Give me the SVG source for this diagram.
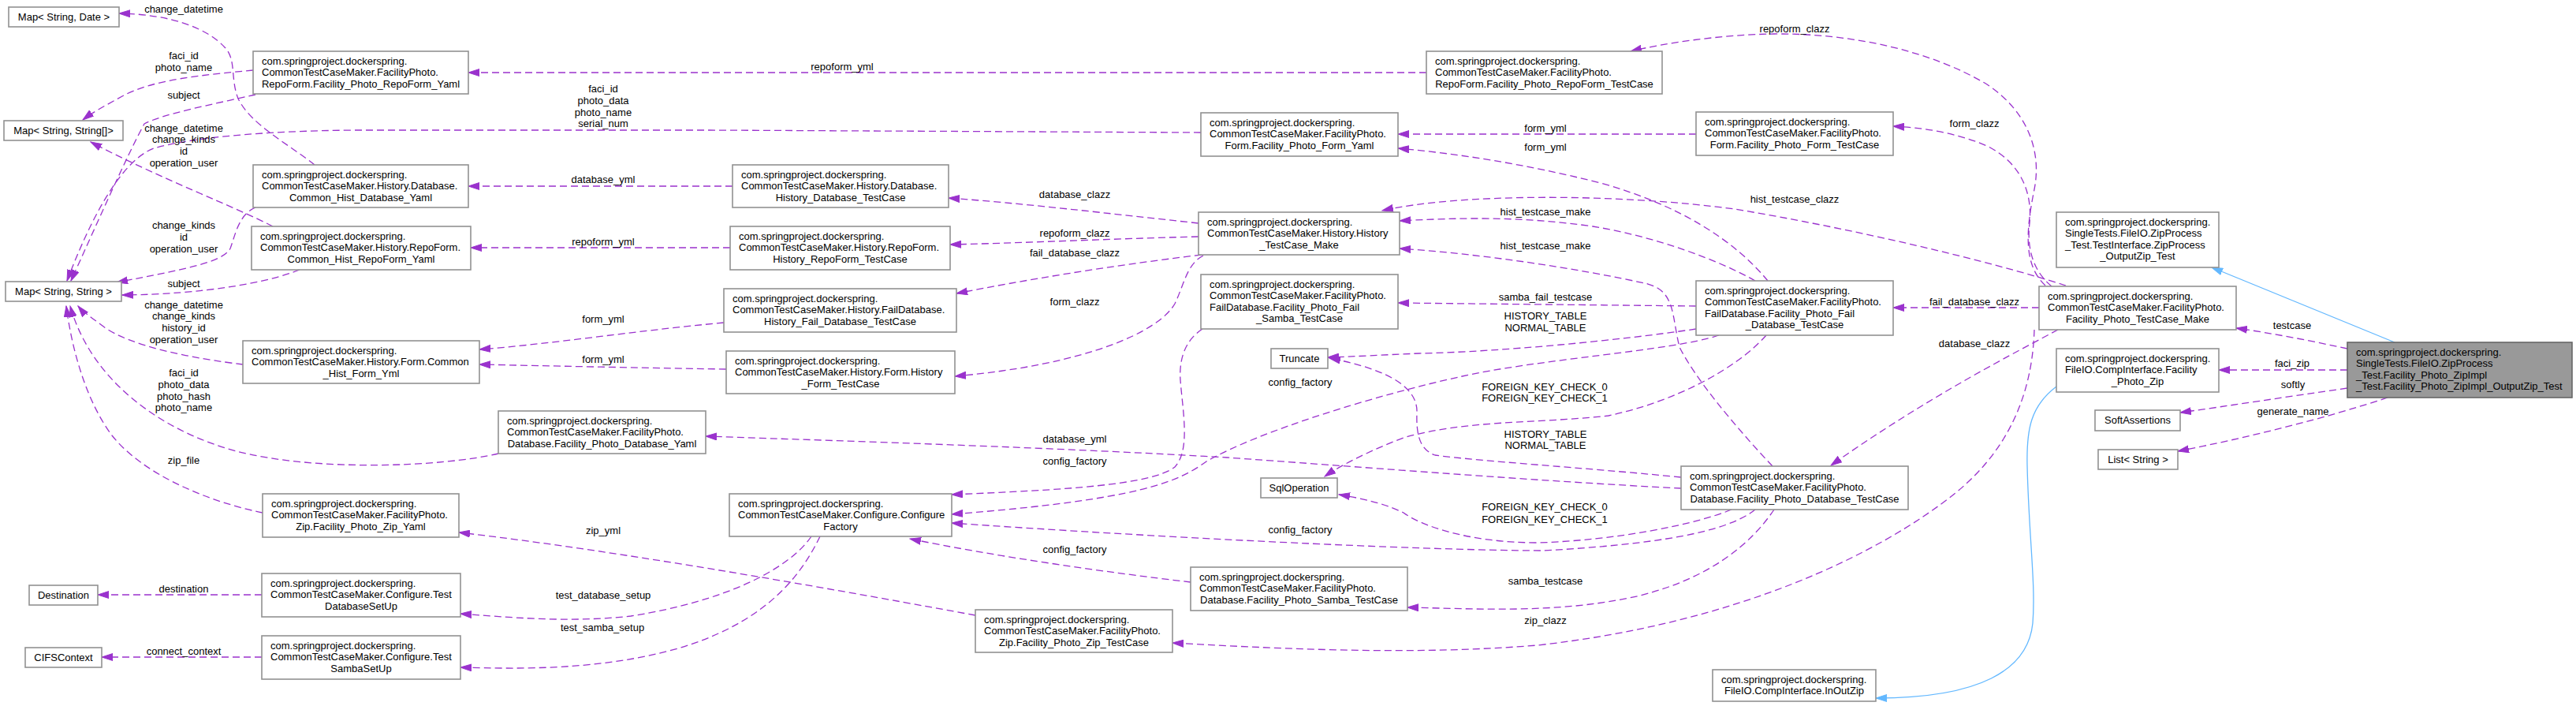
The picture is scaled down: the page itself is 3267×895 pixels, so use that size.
<svg xmlns="http://www.w3.org/2000/svg" width="3267" height="895" viewBox="0 0 3267 895">
<style>
text{font-family:"Liberation Sans",Arial,sans-serif;font-size:13px;fill:#000}
.c{text-anchor:middle}
.n rect{fill:#fff;stroke:#919191;stroke-width:1.6}
.m rect{fill:#999;stroke:#666;stroke-width:1.6}
.e path{fill:none;stroke:#9a32cd;stroke-width:1.3;stroke-dasharray:9,5;marker-end:url(#ap)}
.b path{fill:none;stroke:#63b8ff;stroke-width:1.3;marker-end:url(#ab)}
</style>
<defs>
<marker id="ap" markerUnits="userSpaceOnUse" markerWidth="15" markerHeight="10" refX="14" refY="5" orient="auto"><path d="M0,0.5 L14,5 L0,9.5 z" fill="#9a32cd" stroke="#9a32cd"/></marker>
<marker id="ab" markerUnits="userSpaceOnUse" markerWidth="15" markerHeight="10" refX="14" refY="5" orient="auto"><path d="M0,0.5 L14,5 L0,9.5 z" fill="#63b8ff" stroke="#63b8ff"/></marker>
</defs>
<rect width="3267" height="895" fill="#fff"/>
<g id="edges">
<g class="e"><path d="M399,209 C365,182 318,158 302,125 C292,100 300,75 285,60 C262,35 215,18 151,17"/><text class="c" x="233" y="16">change_datetime</text></g>
<g class="e"><path d="M321,89 C260,95 195,100 155,122 C135,133 118,142 105,152"/><text class="c" x="233" y="75">faci_id</text><text class="c" x="233" y="89.5">photo_name</text></g>
<g class="e"><path d="M324,120 C270,132 205,145 183,157 C162,195 120,290 90,356"/><text class="c" x="233" y="125">subject</text></g>
<g class="e"><path d="M1523,168 L900,165 L450,165 C330,166 240,175 195,188 C150,205 110,290 85,356"/><text class="c" x="765" y="117">faci_id</text><text class="c" x="765" y="132">photo_data</text><text class="c" x="765" y="147">photo_name</text><text class="c" x="765" y="161">serial_num</text></g>
<g class="e"><path d="M346,287 C300,263 200,225 115,180"/><text class="c" x="233" y="167">change_datetime</text><text class="c" x="233" y="181">change_kinds</text><text class="c" x="233" y="195.5">id</text><text class="c" x="233" y="211">operation_user</text></g>
<g class="e"><path d="M324,263 C302,272 298,300 292,315 C283,333 230,342 148,358"/><text class="c" x="233" y="289.5">change_kinds</text><text class="c" x="233" y="304.5">id</text><text class="c" x="233" y="319.5">operation_user</text></g>
<g class="e"><path d="M380,342 C340,358 260,373 155,374"/><text class="c" x="233" y="364">subject</text></g>
<g class="e"><path d="M308,462 C250,455 165,440 130,413 C115,402 104,394 99,388"/><text class="c" x="233" y="391">change_datetime</text><text class="c" x="233" y="405">change_kinds</text><text class="c" x="233" y="420">history_id</text><text class="c" x="233" y="435">operation_user</text></g>
<g class="e"><path d="M632,575 C560,592 400,598 300,572 C200,545 115,480 89,388"/><text class="c" x="233" y="477">faci_id</text><text class="c" x="233" y="492">photo_data</text><text class="c" x="233" y="507">photo_hash</text><text class="c" x="233" y="521">photo_name</text></g>
<g class="e"><path d="M333,650 C260,635 180,600 142,552 C112,512 92,450 84,388"/><text class="c" x="233" y="588">zip_file</text></g>
<g class="e"><path d="M1809,92 L594,92"/><text class="c" x="1068" y="88.5">repoform_yml</text></g>
<g class="e"><path d="M929,236 L594,236"/><text class="c" x="765" y="232">database_yml</text></g>
<g class="e"><path d="M926,314 L597,314"/><text class="c" x="765" y="311">repoform_yml</text></g>
<g class="e"><path d="M918,409 C800,420 700,436 608,443"/><text class="c" x="765" y="409">form_yml</text></g>
<g class="e"><path d="M921,468 C800,466 700,464 608,462"/><text class="c" x="765" y="459.5">form_yml</text></g>
<g class="e"><path d="M1237,780 C1100,755 800,700 582,675"/><text class="c" x="765" y="677">zip_yml</text></g>
<g class="e"><path d="M1029,680 C1000,722 920,762 800,781 C720,790 640,782 584,778"/><text class="c" x="765" y="759">test_database_setup</text></g>
<g class="e"><path d="M1040,680 C1010,742 960,792 860,822 C760,850 660,848 584,846"/><text class="c" x="764" y="800">test_samba_setup</text></g>
<g class="e"><path d="M332,754 L124,754"/><text class="c" x="233" y="750.5">destination</text></g>
<g class="e"><path d="M332,833 L129,833"/><text class="c" x="233" y="829.5">connect_context</text></g>
<g class="e"><path d="M1520,283 C1400,270 1300,258 1203,251"/><text class="c" x="1363" y="251">database_clazz</text></g>
<g class="e"><path d="M1520,300 C1400,303 1300,308 1205,310"/><text class="c" x="1363" y="299.5">repoform_clazz</text></g>
<g class="e"><path d="M1524,323 C1400,338 1300,355 1213,372"/><text class="c" x="1363" y="325">fail_database_clazz</text></g>
<g class="e"><path d="M1526,324 C1505,335 1502,360 1490,385 C1470,420 1380,462 1211,477"/><text class="c" x="1363" y="387">form_clazz</text></g>
<g class="e"><path d="M1525,417 C1505,430 1495,452 1497,482 C1500,522 1510,570 1490,592 C1460,615 1350,621 1207,627"/><text class="c" x="1363" y="588.5">config_factory</text></g>
<g class="e"><path d="M2180,425 C2120,445 1950,455 1850,478 C1750,500 1600,545 1530,585 C1495,610 1450,633 1207,652"/><text class="c" x="1649" y="489">config_factory</text></g>
<g class="e"><path d="M2226,646 C2190,675 2100,690 1958,698 C1800,698 1450,680 1207,663"/><text class="c" x="1649" y="676">config_factory</text></g>
<g class="e"><path d="M1510,738 C1400,725 1260,705 1154,683"/><text class="c" x="1363" y="700.5">config_factory</text></g>
<g class="e"><path d="M2132,619 C1950,610 1700,590 1556,580 C1350,568 1100,560 895,553"/><text class="c" x="1363" y="561">database_yml</text></g>
<g class="e"><path d="M2151,417 C2050,432 1900,446 1800,448 C1750,450 1720,452 1684,453"/><text class="c" x="1960" y="404.5">HISTORY_TABLE</text><text class="c" x="1960" y="419.5">NORMAL_TABLE</text></g>
<g class="e"><path d="M2132,605 C2000,592 1880,585 1820,577 C1800,570 1796,550 1797,523 C1798,495 1770,470 1686,454"/><text class="c" x="1960" y="554.5">HISTORY_TABLE</text><text class="c" x="1960" y="569">NORMAL_TABLE</text></g>
<g class="e"><path d="M2240,425 C2200,470 2120,510 2040,527 C1950,537 1860,532 1780,555 C1740,570 1700,590 1680,604"/><text class="c" x="1959" y="494.5">FOREIGN_KEY_CHECK_0</text><text class="c" x="1959" y="508.5">FOREIGN_KEY_CHECK_1</text></g>
<g class="e"><path d="M2196,646 C2150,665 2050,685 1950,688 C1860,688 1800,665 1780,650 C1760,640 1730,632 1698,627"/><text class="c" x="1959" y="647">FOREIGN_KEY_CHECK_0</text><text class="c" x="1959" y="663">FOREIGN_KEY_CHECK_1</text></g>
<g class="e"><path d="M2250,646 C2220,690 2170,732 2080,755 C1980,778 1880,772 1785,770"/><text class="c" x="1960" y="741">samba_testcase</text></g>
<g class="e"><path d="M2580,418 C2578,480 2560,560 2480,625 C2380,705 2200,790 1950,818 C1800,830 1650,824 1487,815"/><text class="c" x="1960" y="791">zip_clazz</text></g>
<g class="e"><path d="M2610,418 C2560,445 2450,500 2322,590"/><text class="c" x="2504" y="439.5">database_clazz</text></g>
<g class="e"><path d="M2586,390 L2401,390"/><text class="c" x="2504" y="387">fail_database_clazz</text></g>
<g class="e"><path d="M2602,363 C2580,345 2570,317 2574,283 C2578,240 2560,205 2520,185 C2480,168 2440,162 2401,160"/><text class="c" x="2504" y="161">form_clazz</text></g>
<g class="e"><path d="M2594,362 C2565,335 2570,290 2580,240 C2590,190 2570,140 2520,107 C2450,65 2350,42 2250,43 C2180,44 2110,55 2068,65"/><text class="c" x="2276" y="41">repoform_clazz</text></g>
<g class="e"><path d="M2620,362 C2520,330 2350,290 2200,265 C2050,245 1850,245 1753,267"/><text class="c" x="2276" y="257">hist_testcase_clazz</text></g>
<g class="e"><path d="M2151,170 L1773,170"/><text class="c" x="1960" y="167">form_yml</text></g>
<g class="e"><path d="M2242,356 C2200,305 2130,260 2030,232 C1930,207 1850,195 1773,188"/><text class="c" x="1960" y="191">form_yml</text></g>
<g class="e"><path d="M2226,356 C2180,330 2100,300 2020,287 C1930,274 1850,276 1775,280"/><text class="c" x="1960" y="273">hist_testcase_make</text></g>
<g class="e"><path d="M2248,591 C2200,540 2150,480 2130,440 C2120,400 2125,370 2090,360 C2000,340 1880,322 1775,315"/><text class="c" x="1960" y="316">hist_testcase_make</text></g>
<g class="e"><path d="M2151,388 L1773,384"/><text class="c" x="1960" y="381">samba_fail_testcase</text></g>
<g class="b"><path d="M3037,434 L2805,339"/></g>
<g class="b"><path d="M2608,490 C2575,515 2570,545 2571,590 C2573,680 2582,740 2578,790 C2572,850 2510,885 2379,885"/></g>
<g class="e"><path d="M2977,442 C2930,432 2880,422 2836,416"/><text class="c" x="2907" y="417">testcase</text></g>
<g class="e"><path d="M2977,469 L2814,469"/><text class="c" x="2907" y="465">faci_zip</text></g>
<g class="e"><path d="M2977,492 C2900,503 2830,514 2765,523"/><text class="c" x="2908" y="492">softly</text></g>
<g class="e"><path d="M3028,504 C2950,530 2850,555 2762,572"/><text class="c" x="2908" y="525.5">generate_name</text></g>
</g>
<g id="n_main" class="m"><rect x="2977" y="434" width="285" height="70"/><text x="2988" y="451">com.springproject.dockerspring.</text><text x="2988" y="465.4">SingleTests.FileIO.ZipProcess</text><text x="2988" y="479.8">_Test.Facility_Photo_ZipImpl</text><text x="2988" y="494.2">_Test.Facility_Photo_ZipImpl_OutputZip_Test</text></g>
<g id="n_zpt" class="n"><rect x="2608" y="269" width="206" height="70"/><text x="2619" y="285.7">com.springproject.dockerspring.</text><text x="2619" y="300.1">SingleTests.FileIO.ZipProcess</text><text x="2619" y="314.5">_Test.TestInterface.ZipProcess</text><text class="c" x="2711" y="328.9">_OutputZip_Test</text></g>
<g id="n_fptm" class="n"><rect x="2586" y="363" width="250" height="55"/><text x="2597" y="379.7">com.springproject.dockerspring.</text><text x="2597" y="394.1">CommonTestCaseMaker.FacilityPhoto.</text><text class="c" x="2711" y="408.5">Facility_Photo_TestCase_Make</text></g>
<g id="n_fpz" class="n"><rect x="2608" y="442" width="206" height="55"/><text x="2619" y="458.7">com.springproject.dockerspring.</text><text x="2619" y="473.1">FileIO.CompInterface.Facility</text><text class="c" x="2711" y="487.5">_Photo_Zip</text></g>
<g id="n_soft" class="n"><rect x="2657" y="520" width="108" height="26"/><text class="c" x="2711" y="537">SoftAssertions</text></g>
<g id="n_list" class="n"><rect x="2661" y="570" width="101" height="25"/><text class="c" x="2711.5" y="587">List&lt; String &gt;</text></g>
<g id="n_inout" class="n"><rect x="2172" y="849" width="207" height="40"/><text x="2183" y="865.7">com.springproject.dockerspring.</text><text class="c" x="2275.5" y="880.1">FileIO.CompInterface.InOutZip</text></g>
<g id="n_fpdt" class="n"><rect x="2132" y="591" width="288" height="55"/><text x="2143" y="607.7">com.springproject.dockerspring.</text><text x="2143" y="622.1">CommonTestCaseMaker.FacilityPhoto.</text><text class="c" x="2276" y="636.5">Database.Facility_Photo_Database_TestCase</text></g>
<g id="n_fpfdt" class="n"><rect x="2151" y="356" width="250" height="69"/><text x="2162" y="372.7">com.springproject.dockerspring.</text><text x="2162" y="387.1">CommonTestCaseMaker.FacilityPhoto.</text><text x="2162" y="401.5">FailDatabase.Facility_Photo_Fail</text><text class="c" x="2276" y="415.9">_Database_TestCase</text></g>
<g id="n_fpft" class="n"><rect x="2151" y="142" width="250" height="55"/><text x="2162" y="158.7">com.springproject.dockerspring.</text><text x="2162" y="173.1">CommonTestCaseMaker.FacilityPhoto.</text><text class="c" x="2276" y="187.5">Form.Facility_Photo_Form_TestCase</text></g>
<g id="n_fprt" class="n"><rect x="1809" y="65" width="299" height="54"/><text x="1820" y="81.7">com.springproject.dockerspring.</text><text x="1820" y="96.1">CommonTestCaseMaker.FacilityPhoto.</text><text class="c" x="1958.5" y="110.5">RepoForm.Facility_Photo_RepoForm_TestCase</text></g>
<g id="n_fpfy" class="n"><rect x="1523" y="143" width="250" height="55"/><text x="1534" y="159.7">com.springproject.dockerspring.</text><text x="1534" y="174.1">CommonTestCaseMaker.FacilityPhoto.</text><text class="c" x="1648" y="188.5">Form.Facility_Photo_Form_Yaml</text></g>
<g id="n_htm" class="n"><rect x="1520" y="269" width="255" height="54"/><text x="1531" y="285.7">com.springproject.dockerspring.</text><text x="1531" y="300.1">CommonTestCaseMaker.History.History</text><text class="c" x="1647.5" y="314.5">_TestCase_Make</text></g>
<g id="n_fpfst" class="n"><rect x="1523" y="348" width="250" height="69"/><text x="1534" y="364.7">com.springproject.dockerspring.</text><text x="1534" y="379.1">CommonTestCaseMaker.FacilityPhoto.</text><text x="1534" y="393.5">FailDatabase.Facility_Photo_Fail</text><text class="c" x="1648" y="407.9">_Samba_TestCase</text></g>
<g id="n_trunc" class="n"><rect x="1612" y="442" width="72" height="25"/><text class="c" x="1648" y="459">Truncate</text></g>
<g id="n_sql" class="n"><rect x="1599" y="606" width="97" height="25"/><text class="c" x="1647.5" y="623">SqlOperation</text></g>
<g id="n_fpst" class="n"><rect x="1510" y="719" width="275" height="55"/><text x="1521" y="735.7">com.springproject.dockerspring.</text><text x="1521" y="750.1">CommonTestCaseMaker.FacilityPhoto.</text><text class="c" x="1647.5" y="764.5">Database.Facility_Photo_Samba_TestCase</text></g>
<g id="n_fpzt" class="n"><rect x="1237" y="773" width="250" height="54"/><text x="1248" y="789.7">com.springproject.dockerspring.</text><text x="1248" y="804.1">CommonTestCaseMaker.FacilityPhoto.</text><text class="c" x="1362" y="818.5">Zip.Facility_Photo_Zip_TestCase</text></g>
<g id="n_hdt" class="n"><rect x="929" y="209" width="274" height="54"/><text x="940" y="225.7">com.springproject.dockerspring.</text><text x="940" y="240.1">CommonTestCaseMaker.History.Database.</text><text class="c" x="1066" y="254.5">History_Database_TestCase</text></g>
<g id="n_hrt" class="n"><rect x="926" y="287" width="279" height="55"/><text x="937" y="303.7">com.springproject.dockerspring.</text><text x="937" y="318.1">CommonTestCaseMaker.History.RepoForm.</text><text class="c" x="1065.5" y="332.5">History_RepoForm_TestCase</text></g>
<g id="n_hfdt" class="n"><rect x="918" y="366" width="295" height="55"/><text x="929" y="382.7">com.springproject.dockerspring.</text><text x="929" y="397.1">CommonTestCaseMaker.History.FailDatabase.</text><text class="c" x="1065.5" y="411.5">History_Fail_Database_TestCase</text></g>
<g id="n_hft" class="n"><rect x="921" y="445" width="290" height="54"/><text x="932" y="461.7">com.springproject.dockerspring.</text><text x="932" y="476.1">CommonTestCaseMaker.History.Form.History</text><text class="c" x="1066" y="490.5">_Form_TestCase</text></g>
<g id="n_fpdy" class="n"><rect x="632" y="521" width="263" height="54"/><text x="643" y="537.7">com.springproject.dockerspring.</text><text x="643" y="552.1">CommonTestCaseMaker.FacilityPhoto.</text><text class="c" x="763.5" y="566.5">Database.Facility_Photo_Database_Yaml</text></g>
<g id="n_cf" class="n"><rect x="925" y="626" width="282" height="54"/><text x="936" y="642.7">com.springproject.dockerspring.</text><text x="936" y="657.1">CommonTestCaseMaker.Configure.Configure</text><text class="c" x="1066" y="671.5">Factory</text></g>
<g id="n_mdate" class="n"><rect x="11" y="9" width="140" height="25"/><text class="c" x="81" y="26">Map&lt; String, Date &gt;</text></g>
<g id="n_fpry" class="n"><rect x="321" y="65" width="273" height="54"/><text x="332" y="81.7">com.springproject.dockerspring.</text><text x="332" y="96.1">CommonTestCaseMaker.FacilityPhoto.</text><text class="c" x="457.5" y="110.5">RepoForm.Facility_Photo_RepoForm_Yaml</text></g>
<g id="n_marr" class="n"><rect x="5" y="153" width="151" height="25"/><text class="c" x="80.5" y="170">Map&lt; String, String[]&gt;</text></g>
<g id="n_chdy" class="n"><rect x="321" y="209" width="273" height="54"/><text x="332" y="225.7">com.springproject.dockerspring.</text><text x="332" y="240.1">CommonTestCaseMaker.History.Database.</text><text class="c" x="457.5" y="254.5">Common_Hist_Database_Yaml</text></g>
<g id="n_chry" class="n"><rect x="319" y="287" width="278" height="55"/><text x="330" y="303.7">com.springproject.dockerspring.</text><text x="330" y="318.1">CommonTestCaseMaker.History.RepoForm.</text><text class="c" x="458" y="332.5">Common_Hist_RepoForm_Yaml</text></g>
<g id="n_mss" class="n"><rect x="7" y="357" width="147" height="25"/><text class="c" x="80.5" y="374">Map&lt; String, String &gt;</text></g>
<g id="n_chfy" class="n"><rect x="308" y="432" width="300" height="54"/><text x="319" y="448.7">com.springproject.dockerspring.</text><text x="319" y="463.1">CommonTestCaseMaker.History.Form.Common</text><text class="c" x="458" y="477.5">_Hist_Form_Yml</text></g>
<g id="n_fpzy" class="n"><rect x="333" y="626" width="249" height="55"/><text x="344" y="642.7">com.springproject.dockerspring.</text><text x="344" y="657.1">CommonTestCaseMaker.FacilityPhoto.</text><text class="c" x="457.5" y="671.5">Zip.Facility_Photo_Zip_Yaml</text></g>
<g id="n_dest" class="n"><rect x="37" y="742" width="87" height="25"/><text class="c" x="80.5" y="759">Destination</text></g>
<g id="n_tdsu" class="n"><rect x="332" y="727" width="252" height="55"/><text x="343" y="743.7">com.springproject.dockerspring.</text><text x="343" y="758.1">CommonTestCaseMaker.Configure.Test</text><text class="c" x="458" y="772.5">DatabaseSetUp</text></g>
<g id="n_cifs" class="n"><rect x="32" y="821" width="97" height="25"/><text class="c" x="80.5" y="838">CIFSContext</text></g>
<g id="n_tssu" class="n"><rect x="332" y="806" width="252" height="55"/><text x="343" y="822.7">com.springproject.dockerspring.</text><text x="343" y="837.1">CommonTestCaseMaker.Configure.Test</text><text class="c" x="458" y="851.5">SambaSetUp</text></g>
</svg>
